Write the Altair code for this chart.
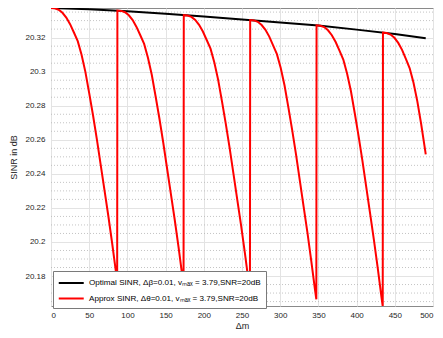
import altair as alt
import pandas as pd

# ---- data ----
opt_label = "Optimal SINR, Δβ=0.01, vₘₐₓ = 3.79,SNR=20dB"
app_label = "Approx SINR, Δθ=0.01, vₘₐₓ = 3.79,SNR=20dB"

x_opt = [0, 50, 100, 150, 200, 250, 300, 350, 400, 450, 490.5]
sinr_opt = [20.3374, 20.3366, 20.3355, 20.3340, 20.3324, 20.3307,
            20.3289, 20.3271, 20.3247, 20.3221, 20.3197]

seg_start = [0, 86.9, 173.8, 260.7, 347.6, 434.5]
seg_dx = [0, 5, 10, 15, 20, 25, 30, 35, 40, 45, 50, 55, 60, 65, 70, 75, 80, 85, 86.6]
seg_dx_last = [0, 5, 10, 15, 20, 25, 30, 35, 40, 45, 50, 55, 56]

seg1 = [20.3374, 20.3372, 20.3364, 20.3346, 20.3318, 20.3279, 20.3230, 20.3179, 20.3099,
        20.2999, 20.2874, 20.2744, 20.2604, 20.2454, 20.2304, 20.2154, 20.1994, 20.1824, 20.1774]
seg2 = [20.3359, 20.3357, 20.3349, 20.3331, 20.3303, 20.3263, 20.3214, 20.3163, 20.3082,
        20.2982, 20.2856, 20.2725, 20.2584, 20.2433, 20.2283, 20.2132, 20.1971, 20.1800, 20.1749]
seg3 = [20.3332, 20.3330, 20.3322, 20.3304, 20.3275, 20.3236, 20.3186, 20.3135, 20.3054,
        20.2952, 20.2826, 20.2694, 20.2553, 20.2401, 20.2249, 20.2097, 20.1935, 20.1763, 20.1713]
seg4 = [20.3303, 20.3301, 20.3293, 20.3274, 20.3246, 20.3206, 20.3155, 20.3103, 20.3021,
        20.2919, 20.2790, 20.2657, 20.2514, 20.2360, 20.2206, 20.2053, 20.1888, 20.1714, 20.1663]
seg5 = [20.3272, 20.3270, 20.3262, 20.3243, 20.3214, 20.3174, 20.3124, 20.3071, 20.2988,
        20.2885, 20.2756, 20.2622, 20.2478, 20.2323, 20.2169, 20.2014, 20.1849, 20.1674, 20.1622]
seg6 = [20.3229, 20.3227, 20.3218, 20.3199, 20.3169, 20.3128, 20.3075, 20.3020, 20.2935,
        20.2826, 20.2693, 20.2545, 20.2515]

x_ticks = [0, 50, 100, 150, 200, 250, 300, 350, 400, 450, 500]
y_ticks = [20.18, 20.2, 20.22, 20.24, 20.26, 20.28, 20.3, 20.32]
y_minor = [20.165, 20.17, 20.175, 20.185, 20.19, 20.195, 20.205, 20.21, 20.215,
           20.225, 20.23, 20.235, 20.245, 20.25, 20.255, 20.265, 20.27, 20.275,
           20.285, 20.29, 20.295, 20.305, 20.31, 20.315, 20.325, 20.33, 20.335]
x_domain = [0, 500]
y_domain = [20.1624, 20.3374]

# ---- build tables ----
rows = []
for x, y in zip(x_opt, sinr_opt):
    rows.append({"x": x, "y": y, "series": opt_label})
segs = [seg1, seg2, seg3, seg4, seg5, seg6]
for i, (x0, vals) in enumerate(zip(seg_start, segs)):
    dxs = seg_dx_last if i == len(segs) - 1 else seg_dx
    for dx, y in zip(dxs, vals):
        rows.append({"x": round(x0 + dx, 2), "y": y, "series": app_label})
df = pd.DataFrame(rows)
df_opt = df[df.series == opt_label]
df_app = df[df.series == app_label]
df_minor = pd.DataFrame({"y": y_minor})

FONT = "Liberation Sans"

xscale = alt.Scale(domain=x_domain, nice=False, zero=False)
yscale = alt.Scale(domain=y_domain, nice=False, zero=False)
color_scale = alt.Scale(domain=[opt_label, app_label], range=["#000000", "#ff0000"])

x_axis = alt.Axis(values=x_ticks, title="Δm", grid=True, gridColor="#e3e3e3",
                  ticks=False, domain=False, labelFontSize=8, labelPadding=5,
                  labelColor="#262626", titleFontSize=9, titleFontWeight="normal",
                  titleColor="#262626", titlePadding=2)
y_axis = alt.Axis(values=y_ticks, format=".2~f", title="SINR in dB", grid=True,
                  gridColor="#e3e3e3", ticks=False, domain=False, labelFontSize=8,
                  labelPadding=6, labelColor="#262626", titleFontSize=9,
                  titleFontWeight="normal", titleColor="#262626", titlePadding=6)

x_enc = alt.X("x:Q", scale=xscale, axis=x_axis)
y_enc = alt.Y("y:Q", scale=yscale, axis=y_axis)

minor = alt.Chart(df_minor).mark_rule(color="#b5b5b5", strokeDash=[1, 2], strokeWidth=0.8).encode(
    y=y_enc
)

legend = alt.Legend(orient="none", legendX=2, legendY=263, title=None,
                    symbolType="M-1,0H3", symbolSize=156, symbolStrokeWidth=2,
                    labelFontSize=8.1, labelFont=FONT, labelColor="#000000", labelOffset=16.5,
                    padding=4.5, rowPadding=3.5, strokeColor="#7a7a7a", fillColor="#ffffff",
                    labelLimit=400)

opt_line = alt.Chart(df_opt).mark_line(strokeWidth=2, clip=True).encode(
    x=x_enc, y=y_enc,
    color=alt.Color("series:N", scale=color_scale, legend=legend),
)
app_line = alt.Chart(df_app).mark_line(strokeWidth=2, clip=True).encode(
    x=x_enc, y=y_enc,
    color=alt.Color("series:N", scale=color_scale, legend=legend),
)

chart = alt.layer(minor, opt_line, app_line).properties(
    width=382, height=298,
    autosize=alt.AutoSizeParams(type="none"),
    padding={"left": 43, "top": 0, "right": 2, "bottom": 24},
).configure(font=FONT).configure_view(stroke="#8a8a8a", strokeWidth=1)

chart.save("out.html", embed_options={"renderer": "svg", "actions": False})
